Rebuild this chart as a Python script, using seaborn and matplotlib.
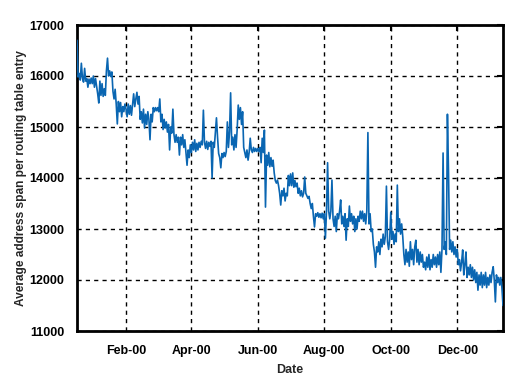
import numpy as np
import pandas as pd
import matplotlib
matplotlib.use("Agg")
import matplotlib.pyplot as plt
import matplotlib.dates as mdates
import seaborn as sns

start_date = "1999-12-18"

dec99 = [16700, 15980, 16050, 15920, 16250, 15960, 15880, 16150, 15900, 15950,
         15780, 15940, 15850, 15960]
jan00 = [15850, 16000, 15780, 15950, 15800, 15650, 15470, 15900, 15620, 15850,
         15600, 15750, 15620, 16100, 16350, 16000, 16100, 15990, 16080, 15700,
         15550, 15740, 15450, 15060, 15500, 15300, 15480, 15200, 15400, 15300,
         15450]
feb00 = [15350, 15200, 15450, 15250, 15420, 15230, 15450, 15650, 15400, 15550,
         15680, 15450, 15600, 15150, 15300, 15080, 15350, 14980, 15250, 15050,
         15300, 15150, 14750, 15250, 15100, 15380, 15300, 15380, 15320]
mar00 = [15380, 15300, 15550, 15100, 15250, 14950, 15150, 14980, 15100, 14900,
         15050, 14550, 15000, 14880, 15350, 14850, 14700, 14850, 14700, 14800,
         14450, 14800, 14650, 14850, 14600, 14750, 14500, 14250, 14550, 14400,
         14650]
apr00 = [14500, 14700, 14550, 14750, 14520, 14680, 14550, 14700, 14600, 14720,
         14650, 15330, 14700, 14580, 14720, 14560, 14700, 14620, 14720, 14000,
         14700, 14600, 14900, 15180, 14800, 14480, 14400, 14200, 14480, 14400]
may00 = [14500, 14420, 14520, 15100, 14600, 14900, 15670, 14650, 14800, 14550,
         14850, 14600, 14950, 15430, 15150, 15380, 15050, 15300, 14600, 14500,
         14400, 14550, 14350, 14500, 14780, 14550, 14500, 14600, 14520, 14580,
         14520]
jun00 = [14580, 14520, 14600, 14300, 14780, 14500, 14940, 13430, 14450, 14250,
         14500, 14220, 14400, 14230, 14350, 14100, 13950, 13900, 13960, 13850,
         13700, 13470, 13750, 13650, 13800, 13550, 13700, 13650, 14050, 13850]
jul00 = [14080, 13850, 14100, 13820, 13950, 13830, 13900, 13700, 13800, 13650,
         13750, 13630, 13700, 14020, 13700, 13650, 13600, 13640, 13500, 13400,
         13500, 13250, 13040, 13300, 13250, 13320, 13230, 13300, 13220, 13310,
         13200]
aug00 = [13300, 12820, 13350, 14300, 13350, 13200, 13350, 13960, 13200, 13050,
         13250, 12950, 13300, 13200, 13350, 13570, 13100, 13250, 13050, 13300,
         12780, 13200, 13050, 13450, 13150, 13300, 13100, 13250, 12950, 13200,
         13000]
sep00 = [13250, 13150, 13350, 13200, 13350, 13150, 13300, 13100, 13350, 14890,
         13100, 13300, 12950, 13000, 12700, 12550, 12250, 12650, 12550, 12750,
         12500, 12800, 12650, 12900, 12700, 12850, 13840, 12750, 12600, 12800]
oct00 = [13330, 12800, 12950, 12700, 12900, 12750, 13860, 12950, 13200, 12900,
         13100, 12850, 12500, 12300, 12600, 12350, 12550, 12270, 12750, 12400,
         12600, 12300, 12650, 12780, 12350, 12600, 12300, 12550, 12350, 12500,
         12250]
nov00 = [12350, 12200, 12450, 12250, 12500, 12200, 12400, 12250, 12500, 12300,
         12450, 12250, 12500, 12300, 12550, 12150, 12600, 14490, 12600, 12750,
         12500, 15250, 14100, 12600, 12780, 12550, 12750, 12500, 12650, 12450]
dec00 = [12600, 12300, 12400, 12180, 12350, 12590, 12100, 12300, 12550, 12050,
         12250, 12100, 12300, 12050, 12250, 12000, 12200, 11950, 12150, 11800,
         12100, 11900, 12150, 11850, 12100, 11900, 12150, 11850, 12050, 11900,
         12100]
jan01 = [11950, 12150, 12260, 12000, 11570, 12100, 11950, 12050, 11900, 12050,
         11850, 11500]

tick_dates = ["2000-02-01", "2000-04-01", "2000-06-01", "2000-08-01",
              "2000-10-01", "2000-12-01"]
y_ticks = [11000, 12000, 13000, 14000, 15000, 16000, 17000]

values = dec99 + jan00 + feb00 + mar00 + apr00 + may00 + jun00 + jul00 + \
    aug00 + sep00 + oct00 + nov00 + dec00 + jan01
dates = pd.date_range(start_date, periods=len(values), freq="D")
df = pd.DataFrame({"Date": dates, "span": values})

sns.set_style("white")
fam = ["Liberation Sans Narrow", "Liberation Sans", "DejaVu Sans"]
plt.rcParams["font.family"] = fam
plt.rcParams["font.weight"] = "bold"

fig = plt.figure(figsize=(5.22, 3.89), dpi=100)
ax = fig.add_axes([77 / 522, 1 - 331 / 389, (503 - 77) / 522, (331 - 25) / 389])

sns.lineplot(data=df, x="Date", y="span", ax=ax, color="#0a66b2",
             linewidth=1.2, zorder=3)

ax.set_xlim(dates[0], dates[-1])
ax.set_ylim(11000, 17000)
ax.set_yticks(y_ticks)
ax.set_yticklabels([str(v) for v in y_ticks])
ax.set_xticks(pd.to_datetime(tick_dates))
ax.xaxis.set_major_formatter(mdates.DateFormatter("%b-%y"))

ax.grid(True, color="black", linestyle=(0, (3, 3)), linewidth=1.0, zorder=1)
for s in ax.spines.values():
    s.set_visible(True)
    s.set_color("black")
    s.set_linewidth(2.0)
ax.tick_params(axis="both", direction="in", length=4, width=1.5,
               top=True, right=True, labelsize=9, colors="black")
ax.tick_params(axis="x", pad=10)
ax.tick_params(axis="y", pad=9)
for lbl in ax.get_xticklabels() + ax.get_yticklabels():
    lbl.set_fontweight("bold")

ax.set_xlabel("Date", fontsize=9, fontweight="bold", labelpad=5)
ax.set_ylabel("Average address span per routing table entry", fontsize=8.6,
              fontweight="bold", labelpad=2)

fig.savefig("out.png", dpi=100, facecolor="white")
